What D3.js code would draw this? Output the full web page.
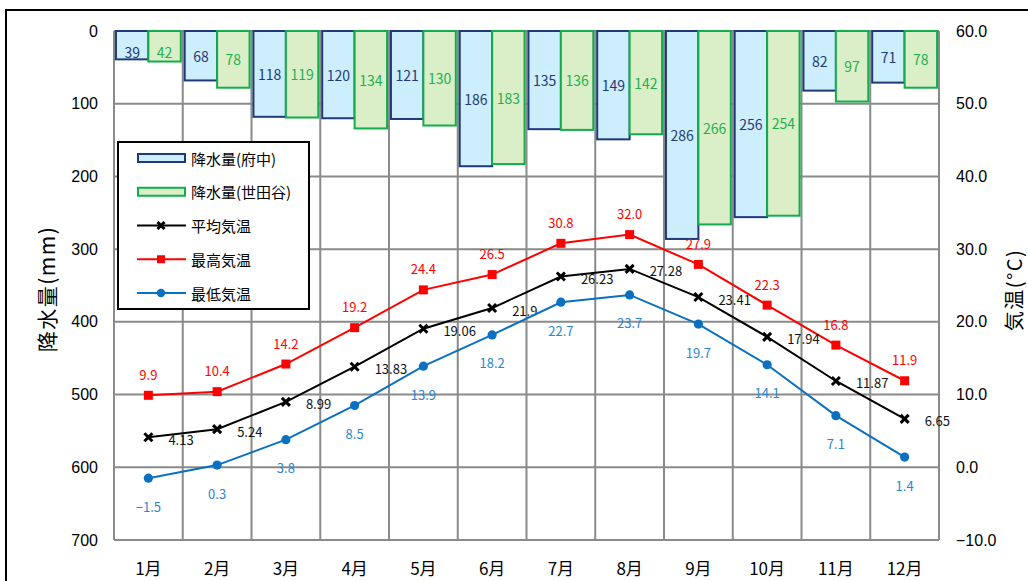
<!DOCTYPE html>
<html lang="ja">
<head>
<meta charset="utf-8">
<script src="https://cdn.jsdelivr.net/npm/d3@7"></script>
<style>
  html, body { margin: 0; padding: 0; background: #fff; }
  svg { display: block; }
</style>
</head>
<body>
<svg id="chart" width="1028" height="581"></svg>
<script>
// 月別データ
const months = ["1月","2月","3月","4月","5月","6月","7月","8月","9月","10月","11月","12月"];
const rainFuchu    = [39, 68, 118, 120, 121, 186, 135, 149, 286, 256, 82, 71];
const rainSetagaya = [42, 78, 119, 134, 130, 183, 136, 142, 266, 254, 97, 78];
const tempAvg = [4.13, 5.24, 8.99, 13.83, 19.06, 21.9, 26.23, 27.28, 23.41, 17.94, 11.87, 6.65];
const tempMax = [9.9, 10.4, 14.2, 19.2, 24.4, 26.5, 30.8, 32.0, 27.9, 22.3, 16.8, 11.9];
const tempMin = [-1.5, 0.3, 3.8, 8.5, 13.9, 18.2, 22.7, 23.7, 19.7, 14.1, 7.1, 1.4];
const rainTicks = [0, 100, 200, 300, 400, 500, 600, 700];
const tempTicks = [60, 50, 40, 30, 20, 10, 0, -10];

const svg = d3.select("#chart");
const JP = "'Noto Sans CJK JP', 'Noto Sans', sans-serif";
const NUM = "'Liberation Sans', Arial, sans-serif";

const plot = { left: 114, right: 939, top: 31, bottom: 540 };

const x = d3.scaleBand().domain(months).range([plot.left, plot.right]).padding(0);
const xs = d3.scaleBand().domain(["fuchu", "setagaya"]).range([0, x.bandwidth()])
  .paddingInner(0).paddingOuter(0.06);
const yRain = d3.scaleLinear().domain([0, 700]).range([plot.top, plot.bottom]);
const yTemp = d3.scaleLinear().domain([-10, 60]).range([plot.bottom, plot.top]);

// 外枠
svg.append("rect").attr("x", 6).attr("y", 10).attr("width", 1040).attr("height", 600)
  .attr("fill", "#fff").attr("stroke", "#000").attr("stroke-width", 2);

// グリッド
const grid = svg.append("g").attr("stroke", "#8a8a8a").attr("stroke-width", 2);
grid.selectAll("line.h").data(rainTicks).join("line")
  .attr("x1", plot.left).attr("x2", plot.right)
  .attr("y1", d => yRain(d)).attr("y2", d => yRain(d));
const vEdges = months.map(m => x(m)).concat([plot.right]);
grid.selectAll("line.v").data(vEdges).join("line")
  .attr("x1", d => d).attr("x2", d => d)
  .attr("y1", plot.top).attr("y2", plot.bottom);

// 降水量の棒
const series = [
  { key: "fuchu", values: rainFuchu, fill: "#cdeefc", stroke: "#1f3a78", label: "#1f3a78" },
  { key: "setagaya", values: rainSetagaya, fill: "#daefc8", stroke: "#12ad4c", label: "#22b04f" }
];
series.forEach(s => {
  const g = svg.append("g");
  g.selectAll("rect").data(s.values).join("rect")
    .attr("x", (d, i) => x(months[i]) + xs(s.key))
    .attr("y", yRain(0))
    .attr("width", xs.bandwidth())
    .attr("height", d => yRain(d) - yRain(0))
    .attr("fill", s.fill).attr("stroke", s.stroke).attr("stroke-width", 2);
  g.selectAll("text").data(s.values).join("text")
    .attr("x", (d, i) => x(months[i]) + xs(s.key) + xs.bandwidth() / 2)
    .attr("y", d => Math.max((yRain(0) + yRain(d)) / 2, yRain(0) + 21))
    .attr("text-anchor", "middle").attr("dominant-baseline", "central")
    .attr("font-family", JP).attr("font-size", 14).attr("fill", s.label)
    .text(d => d);
});

// 気温の折れ線
const cx = i => x(months[i]) + x.bandwidth() / 2;
const lineGen = d3.line().x((d, i) => cx(i)).y(d => yTemp(d));

function xMark(sel, size) {
  const h = size / 2;
  return sel.attr("d", `M${-h},${-h}L${h},${h}M${-h},${h}L${h},${-h}`);
}

const lines = [
  { values: tempMax, color: "#ff0000", marker: "square", labelColor: "#ff0000", dx: 0, dy: -21, anchor: "middle", fmt: d3.format(".1f") },
  { values: tempAvg, color: "#000000", marker: "x", labelColor: "#111", dx: 20, dy: 2, anchor: "start", fmt: d => String(d) },
  { values: tempMin, color: "#0a70c2", marker: "circle", labelColor: "#2b86cf", dx: 0, dy: 28, anchor: "middle", fmt: d3.format(".1f") }
];
lines.forEach(l => {
  const g = svg.append("g");
  g.append("path").datum(l.values).attr("d", lineGen)
    .attr("fill", "none").attr("stroke", l.color).attr("stroke-width", 2);
  const pts = g.selectAll("g.pt").data(l.values).join("g")
    .attr("transform", (d, i) => `translate(${cx(i)},${yTemp(d)})`);
  if (l.marker === "square") {
    pts.append("rect").attr("x", -4.5).attr("y", -4.5).attr("width", 9).attr("height", 9).attr("fill", l.color);
  } else if (l.marker === "circle") {
    pts.append("circle").attr("r", 4.6).attr("fill", l.color);
  } else {
    xMark(pts.append("path"), 8).attr("stroke", l.color).attr("stroke-width", 3);
  }
  g.selectAll("text").data(l.values).join("text")
    .attr("x", (d, i) => cx(i) + l.dx)
    .attr("y", d => yTemp(d) + l.dy)
    .attr("text-anchor", l.anchor).attr("dominant-baseline", "central")
    .attr("font-family", JP).attr("font-size", 13).attr("fill", l.labelColor)
    .text(l.fmt);
});

// 左軸(降水量)
svg.append("g").selectAll("text").data(rainTicks).join("text")
  .attr("x", 98).attr("y", d => yRain(d))
  .attr("text-anchor", "end").attr("dominant-baseline", "central")
  .attr("font-family", NUM).attr("font-size", 16).attr("fill", "#000")
  .text(d => d);

// 右軸(気温)
const fmtT = d3.format(".1f");
svg.append("g").selectAll("text").data(tempTicks).join("text")
  .attr("x", 956).attr("y", d => yTemp(d))
  .attr("text-anchor", "start").attr("dominant-baseline", "central")
  .attr("font-family", NUM).attr("font-size", 16).attr("fill", "#000")
  .text(d => fmtT(d));

// 月ラベル
svg.append("g").selectAll("text").data(months).join("text")
  .attr("x", d => x(d) + x.bandwidth() / 2).attr("y", 567)
  .attr("text-anchor", "middle").attr("dominant-baseline", "central")
  .attr("font-family", JP).attr("font-size", 17).attr("fill", "#000")
  .text(d => d);

// 軸タイトル
svg.append("text").attr("transform", "translate(46,289) rotate(-90)")
  .attr("text-anchor", "middle").attr("dominant-baseline", "central")
  .attr("font-family", JP).attr("font-size", 21).attr("letter-spacing", 1.5)
  .text("降水量(mm)");
svg.append("text").attr("transform", "translate(1013,290) rotate(-90)")
  .attr("text-anchor", "middle").attr("dominant-baseline", "central")
  .attr("font-family", JP).attr("font-size", 20).attr("letter-spacing", 1.5)
  .text("気温(°C)");

// 凡例
const legend = svg.append("g");
legend.append("rect").attr("x", 118).attr("y", 142).attr("width", 191).attr("height", 167)
  .attr("fill", "#fff").attr("stroke", "#000").attr("stroke-width", 2);
const legendItems = [
  { name: "降水量(府中)", type: "bar", fill: series[0].fill, stroke: series[0].stroke },
  { name: "降水量(世田谷)", type: "bar", fill: series[1].fill, stroke: series[1].stroke },
  { name: "平均気温", type: "x", color: lines[1].color },
  { name: "最高気温", type: "square", color: lines[0].color },
  { name: "最低気温", type: "circle", color: lines[2].color }
];
const ly = d3.scaleLinear().domain([0, 4]).range([158, 293]);
legendItems.forEach((it, i) => {
  const y = ly(i);
  const g = legend.append("g");
  if (it.type === "bar") {
    g.append("rect").attr("x", 138).attr("y", y - 4).attr("width", 47).attr("height", 8)
      .attr("fill", it.fill).attr("stroke", it.stroke).attr("stroke-width", 2);
  } else {
    g.append("line").attr("x1", 137).attr("x2", 186).attr("y1", y).attr("y2", y)
      .attr("stroke", it.color).attr("stroke-width", 2);
    const m = g.append("g").attr("transform", `translate(161,${y})`);
    if (it.type === "square") m.append("rect").attr("x", -4).attr("y", -4).attr("width", 8).attr("height", 8).attr("fill", it.color);
    else if (it.type === "circle") m.append("circle").attr("r", 4.2).attr("fill", it.color);
    else xMark(m.append("path"), 7).attr("stroke", it.color).attr("stroke-width", 3);
  }
  g.append("text").attr("x", 191).attr("y", y)
    .attr("dominant-baseline", "central")
    .attr("font-family", JP).attr("font-size", 15).attr("fill", "#000")
    .text(it.name);
});
</script>
</body>
</html>
